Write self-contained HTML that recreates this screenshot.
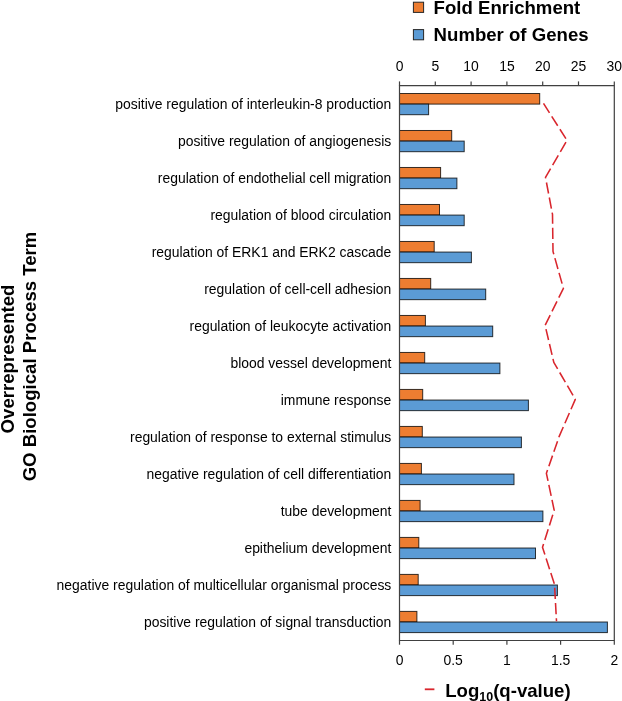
<!DOCTYPE html>
<html><head><meta charset="utf-8"><style>
html,body{margin:0;padding:0;background:#fff;width:622px;height:701px;overflow:hidden}
svg{display:block;will-change:transform;font-family:"Liberation Sans",sans-serif}
</style></head><body>
<svg width="622" height="701" viewBox="0 0 622 701">
<rect width="622" height="701" fill="#fff"/>
<rect x="399.50" y="93.50" width="140.20" height="10.60" fill="#ED7D31" stroke="#000" stroke-opacity="0.78" stroke-width="1"/>
<rect x="399.50" y="104.10" width="29.10" height="10.60" fill="#5B9BD5" stroke="#000" stroke-opacity="0.78" stroke-width="1"/>
<rect x="399.50" y="130.49" width="52.20" height="10.60" fill="#ED7D31" stroke="#000" stroke-opacity="0.78" stroke-width="1"/>
<rect x="399.50" y="141.09" width="64.70" height="10.60" fill="#5B9BD5" stroke="#000" stroke-opacity="0.78" stroke-width="1"/>
<rect x="399.50" y="167.48" width="41.10" height="10.60" fill="#ED7D31" stroke="#000" stroke-opacity="0.78" stroke-width="1"/>
<rect x="399.50" y="178.08" width="57.40" height="10.60" fill="#5B9BD5" stroke="#000" stroke-opacity="0.78" stroke-width="1"/>
<rect x="399.50" y="204.48" width="40.00" height="10.60" fill="#ED7D31" stroke="#000" stroke-opacity="0.78" stroke-width="1"/>
<rect x="399.50" y="215.08" width="64.70" height="10.60" fill="#5B9BD5" stroke="#000" stroke-opacity="0.78" stroke-width="1"/>
<rect x="399.50" y="241.47" width="34.70" height="10.60" fill="#ED7D31" stroke="#000" stroke-opacity="0.78" stroke-width="1"/>
<rect x="399.50" y="252.07" width="71.90" height="10.60" fill="#5B9BD5" stroke="#000" stroke-opacity="0.78" stroke-width="1"/>
<rect x="399.50" y="278.46" width="31.20" height="10.60" fill="#ED7D31" stroke="#000" stroke-opacity="0.78" stroke-width="1"/>
<rect x="399.50" y="289.06" width="86.20" height="10.60" fill="#5B9BD5" stroke="#000" stroke-opacity="0.78" stroke-width="1"/>
<rect x="399.50" y="315.46" width="25.90" height="10.60" fill="#ED7D31" stroke="#000" stroke-opacity="0.78" stroke-width="1"/>
<rect x="399.50" y="326.06" width="93.20" height="10.60" fill="#5B9BD5" stroke="#000" stroke-opacity="0.78" stroke-width="1"/>
<rect x="399.50" y="352.45" width="25.20" height="10.60" fill="#ED7D31" stroke="#000" stroke-opacity="0.78" stroke-width="1"/>
<rect x="399.50" y="363.05" width="100.40" height="10.60" fill="#5B9BD5" stroke="#000" stroke-opacity="0.78" stroke-width="1"/>
<rect x="399.50" y="389.44" width="23.20" height="10.60" fill="#ED7D31" stroke="#000" stroke-opacity="0.78" stroke-width="1"/>
<rect x="399.50" y="400.04" width="128.90" height="10.60" fill="#5B9BD5" stroke="#000" stroke-opacity="0.78" stroke-width="1"/>
<rect x="399.50" y="426.44" width="22.80" height="10.60" fill="#ED7D31" stroke="#000" stroke-opacity="0.78" stroke-width="1"/>
<rect x="399.50" y="437.04" width="121.90" height="10.60" fill="#5B9BD5" stroke="#000" stroke-opacity="0.78" stroke-width="1"/>
<rect x="399.50" y="463.43" width="21.90" height="10.60" fill="#ED7D31" stroke="#000" stroke-opacity="0.78" stroke-width="1"/>
<rect x="399.50" y="474.03" width="114.50" height="10.60" fill="#5B9BD5" stroke="#000" stroke-opacity="0.78" stroke-width="1"/>
<rect x="399.50" y="500.42" width="20.60" height="10.60" fill="#ED7D31" stroke="#000" stroke-opacity="0.78" stroke-width="1"/>
<rect x="399.50" y="511.02" width="143.40" height="10.60" fill="#5B9BD5" stroke="#000" stroke-opacity="0.78" stroke-width="1"/>
<rect x="399.50" y="537.42" width="19.30" height="10.60" fill="#ED7D31" stroke="#000" stroke-opacity="0.78" stroke-width="1"/>
<rect x="399.50" y="548.02" width="136.00" height="10.60" fill="#5B9BD5" stroke="#000" stroke-opacity="0.78" stroke-width="1"/>
<rect x="399.50" y="574.41" width="18.70" height="10.60" fill="#ED7D31" stroke="#000" stroke-opacity="0.78" stroke-width="1"/>
<rect x="399.50" y="585.01" width="157.90" height="10.60" fill="#5B9BD5" stroke="#000" stroke-opacity="0.78" stroke-width="1"/>
<rect x="399.50" y="611.40" width="17.40" height="10.60" fill="#ED7D31" stroke="#000" stroke-opacity="0.78" stroke-width="1"/>
<rect x="399.50" y="622.00" width="207.90" height="10.60" fill="#5B9BD5" stroke="#000" stroke-opacity="0.78" stroke-width="1"/>
<path d="M399.5 85.6H614.3V640.5H399.5Z" fill="none" stroke="#404040" stroke-width="1.2"/>
<line x1="399.50" y1="81.40" x2="399.50" y2="85.60" stroke="#404040" stroke-width="1.2"/>
<text x="399.50" y="70.5" text-anchor="middle" font-size="13.92" fill="#000000">0</text>
<line x1="435.30" y1="81.40" x2="435.30" y2="85.60" stroke="#404040" stroke-width="1.2"/>
<text x="435.30" y="70.5" text-anchor="middle" font-size="13.92" fill="#000000">5</text>
<line x1="471.10" y1="81.40" x2="471.10" y2="85.60" stroke="#404040" stroke-width="1.2"/>
<text x="471.10" y="70.5" text-anchor="middle" font-size="13.92" fill="#000000">10</text>
<line x1="506.90" y1="81.40" x2="506.90" y2="85.60" stroke="#404040" stroke-width="1.2"/>
<text x="506.90" y="70.5" text-anchor="middle" font-size="13.92" fill="#000000">15</text>
<line x1="542.70" y1="81.40" x2="542.70" y2="85.60" stroke="#404040" stroke-width="1.2"/>
<text x="542.70" y="70.5" text-anchor="middle" font-size="13.92" fill="#000000">20</text>
<line x1="578.50" y1="81.40" x2="578.50" y2="85.60" stroke="#404040" stroke-width="1.2"/>
<text x="578.50" y="70.5" text-anchor="middle" font-size="13.92" fill="#000000">25</text>
<line x1="614.30" y1="81.40" x2="614.30" y2="85.60" stroke="#404040" stroke-width="1.2"/>
<text x="614.30" y="70.5" text-anchor="middle" font-size="13.92" fill="#000000">30</text>
<line x1="399.50" y1="640.50" x2="399.50" y2="644.70" stroke="#404040" stroke-width="1.2"/>
<text x="399.50" y="665.2" text-anchor="middle" font-size="13.92" fill="#000000">0</text>
<line x1="453.20" y1="640.50" x2="453.20" y2="644.70" stroke="#404040" stroke-width="1.2"/>
<text x="453.20" y="665.2" text-anchor="middle" font-size="13.92" fill="#000000">0.5</text>
<line x1="506.90" y1="640.50" x2="506.90" y2="644.70" stroke="#404040" stroke-width="1.2"/>
<text x="506.90" y="665.2" text-anchor="middle" font-size="13.92" fill="#000000">1</text>
<line x1="560.60" y1="640.50" x2="560.60" y2="644.70" stroke="#404040" stroke-width="1.2"/>
<text x="560.60" y="665.2" text-anchor="middle" font-size="13.92" fill="#000000">1.5</text>
<line x1="614.30" y1="640.50" x2="614.30" y2="644.70" stroke="#404040" stroke-width="1.2"/>
<text x="614.30" y="665.2" text-anchor="middle" font-size="13.92" fill="#000000">2</text>
<text x="391.3" y="109.40" text-anchor="end" font-size="13.92" fill="#000000">positive regulation of interleukin-8 production</text>
<text x="391.3" y="146.39" text-anchor="end" font-size="13.92" fill="#000000">positive regulation of angiogenesis</text>
<text x="391.3" y="183.38" text-anchor="end" font-size="13.92" fill="#000000">regulation of endothelial cell migration</text>
<text x="391.3" y="220.38" text-anchor="end" font-size="13.92" fill="#000000">regulation of blood circulation</text>
<text x="391.3" y="257.37" text-anchor="end" font-size="13.92" fill="#000000">regulation of ERK1 and ERK2 cascade</text>
<text x="391.3" y="294.36" text-anchor="end" font-size="13.92" fill="#000000">regulation of cell-cell adhesion</text>
<text x="391.3" y="331.36" text-anchor="end" font-size="13.92" fill="#000000">regulation of leukocyte activation</text>
<text x="391.3" y="368.35" text-anchor="end" font-size="13.92" fill="#000000">blood vessel development</text>
<text x="391.3" y="405.34" text-anchor="end" font-size="13.92" fill="#000000">immune response</text>
<text x="391.3" y="442.34" text-anchor="end" font-size="13.92" fill="#000000">regulation of response to external stimulus</text>
<text x="391.3" y="479.33" text-anchor="end" font-size="13.92" fill="#000000">negative regulation of cell differentiation</text>
<text x="391.3" y="516.32" text-anchor="end" font-size="13.92" fill="#000000">tube development</text>
<text x="391.3" y="553.32" text-anchor="end" font-size="13.92" fill="#000000">epithelium development</text>
<text x="391.3" y="590.31" text-anchor="end" font-size="13.92" fill="#000000">negative regulation of multicellular organismal process</text>
<text x="391.3" y="627.30" text-anchor="end" font-size="13.92" fill="#000000">positive regulation of signal transduction</text>
<polyline points="543.50,103.40 567.00,140.39 545.50,177.38 552.50,214.38 553.00,251.37 563.40,288.36 545.10,325.36 553.80,362.35 575.30,399.34 559.20,436.34 546.40,473.33 554.20,510.32 542.50,547.32 554.50,584.31 556.50,621.30" fill="none" stroke="#D9262D" stroke-width="1.55" stroke-dasharray="11.2 4.1" stroke-linejoin="round"/>
<rect x="413.4" y="2.2" width="10.2" height="10.2" fill="#ED7D31" stroke="#262626" stroke-width="1"/>
<rect x="413.4" y="29.6" width="10.2" height="10.2" fill="#5B9BD5" stroke="#262626" stroke-width="1"/>
<text x="433.6" y="13.5" font-size="18.6" font-weight="bold" fill="#000000">Fold Enrichment</text>
<text x="433.6" y="41" font-size="18.6" font-weight="bold" fill="#000000">Number of Genes</text>
<line x1="424.8" y1="689.3" x2="434.4" y2="689.3" stroke="#D9262D" stroke-width="1.8"/>
<text x="445.2" y="696.5" font-size="18.6" font-weight="bold" fill="#000000">Log<tspan font-size="12.5" dy="4">10</tspan><tspan dy="-4">(q-value)</tspan></text>
<text transform="translate(14.0 359) rotate(-90)" text-anchor="middle" font-size="18.6" font-weight="bold" fill="#000000">Overrepresented</text>
<text transform="translate(35.9 356.5) rotate(-90)" text-anchor="middle" font-size="18.6" font-weight="bold" fill="#000000">GO Biological Process Term</text>
</svg>
</body></html>
